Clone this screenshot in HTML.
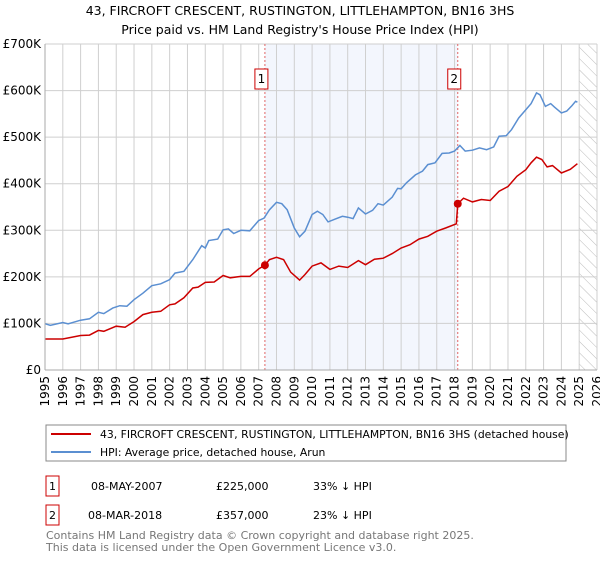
<!DOCTYPE html>
<html><head><meta charset="utf-8"><style>
body{margin:0;background:#fff;width:600px;height:560px;overflow:hidden;font-family:"DejaVu Sans","Liberation Sans",sans-serif}
svg text{font-family:"DejaVu Sans","Liberation Sans",sans-serif}
</style></head><body>
<svg id="chart" width="600" height="560" viewBox="0 0 600 560" xmlns="http://www.w3.org/2000/svg">
<text x="300" y="15" text-anchor="middle" font-size="12.5" fill="#000">43, FIRCROFT CRESCENT, RUSTINGTON, LITTLEHAMPTON, BN16 3HS</text>
<text x="300" y="34" text-anchor="middle" font-size="12.5" fill="#000">Price paid vs. HM Land Registry's House Price Index (HPI)</text>
<g id="plot"></g>
<rect x="46" y="425" width="520" height="36" fill="#fff" stroke="#888"/>
<line x1="51" y1="434" x2="91" y2="434" stroke="#cc0000" stroke-width="2"/>
<text x="100" y="438" font-size="10.8">43, FIRCROFT CRESCENT, RUSTINGTON, LITTLEHAMPTON, BN16 3HS (detached house)</text>
<line x1="51" y1="452" x2="91" y2="452" stroke="#5b8fd1" stroke-width="2"/>
<text x="100" y="456" font-size="10.8">HPI: Average price, detached house, Arun</text>
<g font-size="11">
<rect x="46" y="476" width="13" height="20" fill="#fff" stroke="#cc0000"/>
<text x="52.5" y="490" text-anchor="middle">1</text>
<text x="91" y="490">08-MAY-2007</text>
<text x="216" y="490">£225,000</text>
<text x="313" y="490">33% ↓ HPI</text>
</g>
<g font-size="11">
<rect x="46" y="505" width="13" height="20" fill="#fff" stroke="#cc0000"/>
<text x="52.5" y="519" text-anchor="middle">2</text>
<text x="88" y="519">08-MAR-2018</text>
<text x="216" y="519">£357,000</text>
<text x="313" y="519">23% ↓ HPI</text>
</g>
<text x="46" y="539" font-size="11" fill="#777">Contains HM Land Registry data © Crown copyright and database right 2025.</text>
<text x="46" y="551" font-size="11" fill="#777">This data is licensed under the Open Government Licence v3.0.</text>
</svg>
<script>
const hpiYears=[1995,1995.3,1996,1996.3,1997,1997.5,1998,1998.3,1998.8,1999.2,1999.6,2000,2000.5,2001,2001.5,2002,2002.3,2002.8,2003.3,2003.8,2004,2004.2,2004.7,2005,2005.3,2005.6,2006,2006.5,2007,2007.3,2007.6,2008,2008.3,2008.6,2009,2009.3,2009.6,2010,2010.3,2010.6,2010.9,2011.3,2011.7,2012,2012.3,2012.6,2013,2013.4,2013.7,2014,2014.5,2014.8,2015,2015.3,2015.8,2016.2,2016.5,2016.9,2017.3,2017.7,2018,2018.3,2018.6,2019,2019.4,2019.8,2020.2,2020.5,2020.9,2021.2,2021.6,2022,2022.3,2022.6,2022.8,2023.1,2023.4,2023.6,2024,2024.3,2024.6,2024.8,2024.9];
const hpiValues=[99.5,96,102,99,107,110,124,121,133,138,137,151,165,181,185,194,208,212,237,267,262,278,281,301,303,293,300,299,321,326,344,360,357,344,305,286,298,334,341,334,318,324,330,328,325,348,335,343,357,354,371,390,389,402,419,427,441,445,465,466,470,482,470,472,477,473,479,502,503,516,541,559,572,595,591,566,572,565,552,556,568,577,575];
const priceYears=[1995,1996,1997,1997.5,1998,1998.3,1999,1999.5,2000,2000.5,2001,2001.5,2002,2002.3,2002.8,2003.3,2003.6,2004,2004.5,2005,2005.4,2006,2006.5,2007,2007.35,2007.6,2008,2008.4,2008.8,2009.3,2009.6,2010,2010.5,2011,2011.5,2012,2012.6,2013,2013.5,2014,2014.5,2015,2015.5,2016,2016.5,2017,2017.5,2018.1,2018.18,2018.5,2019,2019.5,2020,2020.5,2021,2021.5,2022,2022.3,2022.6,2022.9,2023.2,2023.5,2024,2024.5,2024.9];
const priceValues=[66.5,66.5,74,75,85,83,94,92,104,119,124,126,140,142,155,176,178,188,189,203,198,201,201,217,225,237,242,237,210,193,205,223,230,216,223,220,235,226,238,240,250,262,269,281,287,298,305,314,357,369,361,366,364,384,394,416,430,445,457,452,436,439,423,431,443];
const saleYears=[2007.35,2018.18];
const saleValues=[225,357];
const saleLabels=["1","2"];
const yTicks=[0,100,200,300,400,500,600,700];
const yTickLabels=["£0","£100K","£200K","£300K","£400K","£500K","£600K","£700K"];
const xTicks=[1995,1996,1997,1998,1999,2000,2001,2002,2003,2004,2005,2006,2007,2008,2009,2010,2011,2012,2013,2014,2015,2016,2017,2018,2019,2020,2021,2022,2023,2024,2025,2026];

const L=45,R=597,T=44,B=370;
const X=y=>L+(y-1995)*(R-L)/31;
const Y=v=>B-v*(B-T)/700;
const NS="http://www.w3.org/2000/svg";
const g=document.getElementById('plot');
function mk(tag,attrs){const e=document.createElementNS(NS,tag);for(const k in attrs)e.setAttribute(k,attrs[k]);g.appendChild(e);return e;}

let e=mk('rect',{x:X(saleYears[0]),y:T,width:X(saleYears[1])-X(saleYears[0]),height:B-T,fill:'#f3f6fd'});


const defs=document.createElementNS(NS,'defs');
defs.innerHTML='<pattern id="hatch" width="8" height="8" patternUnits="userSpaceOnUse" patternTransform="rotate(-45)"><line x1="0" y1="0" x2="0" y2="8" stroke="#bbb" stroke-width="1"/></pattern>';
g.appendChild(defs);
e=mk('rect',{x:X(2025.0),y:T,width:R-X(2025.0),height:B-T,fill:'url(#hatch)'});


xTicks.forEach(t=>{
  const l=mk('line',{x1:X(t),x2:X(t),y1:T,y2:B,stroke:'#cfcfcf','stroke-width':1});
  
  
  const tx=mk('text',{x:0,y:0,'font-size':12,'text-anchor':'end',transform:`translate(${X(t)+4},${B+6}) rotate(-90)`});
  tx.textContent=t;
  
  
});
yTicks.forEach((t,i)=>{
  const l=mk('line',{x1:L,x2:R,y1:Y(t),y2:Y(t),stroke:'#cfcfcf','stroke-width':1});
  
  
  const tx=mk('text',{x:L-4,y:Y(t)+4,'font-size':12,'text-anchor':'end'});
  tx.textContent=yTickLabels[i];
  
  
});
saleYears.forEach((s,i)=>{
  const l=mk('line',{x1:X(s),x2:X(s),y1:T,y2:B,stroke:'#e06666','stroke-width':1,'stroke-dasharray':'2,2'});
  
  
});
function pts(xs,vs){return xs.map((x,i)=>X(x).toFixed(1)+','+Y(vs[i]).toFixed(1)).join(' ');}
e=mk('polyline',{points:pts(hpiYears,hpiValues),fill:'none',stroke:'#5b8fd1','stroke-width':1.5});


e=mk('polyline',{points:pts(priceYears,priceValues),fill:'none',stroke:'#cc0000','stroke-width':1.5});


saleYears.forEach((s,i)=>{
  const c=mk('circle',{cx:X(s),cy:Y(saleValues[i]),r:4,fill:'#cc0000'});
  
  
  const r=mk('rect',{x:X(s)-10,y:69,width:13,height:20,fill:'#fff',stroke:'#cc0000'});
  
  
  const t=mk('text',{x:X(s)-3.5,y:83,'font-size':12,'text-anchor':'middle'});
  t.textContent=saleLabels[i];
  
  
});
const ax=mk('line',{x1:L,x2:R,y1:B,y2:B,stroke:'#aaa'});


const ay=mk('line',{x1:L,x2:L,y1:T,y2:B,stroke:'#aaa'});


</script>
</body></html>
